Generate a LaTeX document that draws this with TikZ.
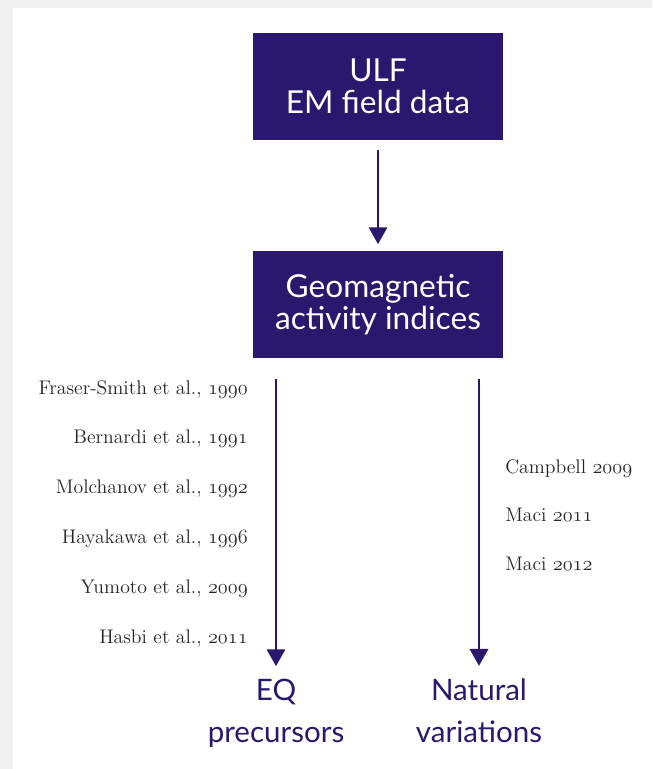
\documentclass[tikz,border=0pt]{standalone}
\usepackage{fontspec}
\newfontfamily\boxfont{Lato}
\usetikzlibrary{arrows.meta}
\definecolor{indigo}{HTML}{2A186E}
\definecolor{panelgray}{HTML}{F1F1F1}
\definecolor{citegray}{HTML}{262626}
\newcommand{\osnum}[1]{{\usefont{OML}{cmm}{m}{it}#1}}

\begin{document}
\begin{tikzpicture}[x=0.025cm, y=-0.025cm,
  databox/.style={fill=indigo, text=white, minimum width=6.25cm, minimum height=2.65cm,
    inner sep=0pt, align=center, font=\boxfont\fontsize{22.5}{23}\selectfont},
  outcome/.style={text=indigo, align=center, inner sep=2pt, font=\boxfont\fontsize{21}{29.5}\selectfont},
  cite/.style={text=citegray, inner sep=0pt, font=\fontsize{14}{16}\selectfont},
  flow/.style={draw=indigo, line width=1.8pt, -{Triangle[width=13pt,length=12pt]}}]
  \fill[panelgray] (0,0) rectangle (652,769);
  \fill[white] (13,8) rectangle (652,769);
  \node[databox] (ulf) at (378,86.5) {ULF\\EM field data};
  \node[databox] (geo) at (378,304.5) {Geomagnetic\\activity indices};
  \node[outcome, anchor=base] (eq) at (276,742) {EQ\\precursors};
  \node[outcome, anchor=base] (nat) at (479,742) {Natural\\variations};
  \draw[flow, shorten <=7pt, shorten >=5pt] (ulf) -- (geo);
  \draw[flow, shorten <=15pt, shorten >=7pt] (geo.south -| eq.north) -- (eq.north);
  \draw[flow, shorten <=15pt, shorten >=7pt] (geo.south -| nat.north) -- (nat.north);
  \foreach \who/\yr [count=\i from 0] in {Fraser-Smith/1990, Bernardi/1991, Molchanov/1992,
      Hayakawa/1996, Yumoto/2009, Hasbi/2011}
    \node[cite, anchor=base east] (eqref\i) at (248,394+49.8*\i) {\who{} et al., \osnum{\yr}};
  \foreach \who/\yr [count=\i from 0] in {Campbell/2009, Maci/2011, Maci/2012}
    \node[cite, anchor=base west] (natref\i) at (505,473+48.5*\i) {\who{} \osnum{\yr}};
\end{tikzpicture}
\end{document}
